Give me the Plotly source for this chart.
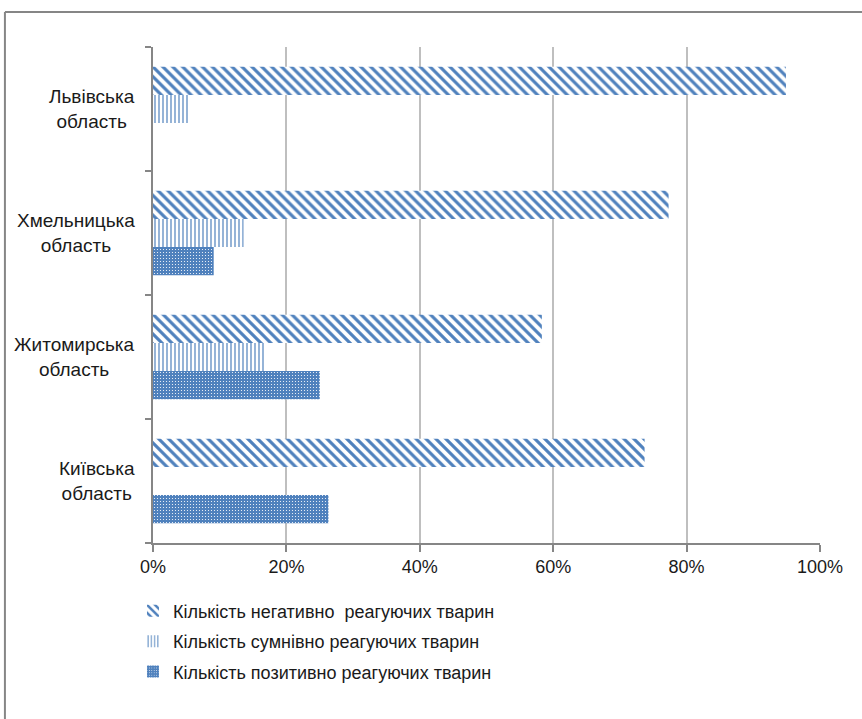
import plotly.graph_objects as go

regions = ["Київська", "Житомирська", "Хмельницька", "Львівська"]
region_labels = ["Київська<br>область", "Житомирська<br>область",
                 "Хмельницька<br>область", "Львівська<br>область"]

negative = [0.737, 0.583, 0.773, 0.949]
doubtful = [0.0, 0.167, 0.136, 0.054]
positive = [0.263, 0.250, 0.091, 0.0]

name_neg = "Кількість негативно  реагуючих тварин"
name_doubt = "Кількість сумнівно реагуючих тварин"
name_pos = "Кількість позитивно реагуючих тварин"

tick_vals = [0, 0.2, 0.4, 0.6, 0.8, 1.0]

BLUE = "#4F81BD"
FONT = "Liberation Sans"
TXT = "#1a1a1a"

fig = go.Figure()
fig.add_trace(go.Bar(
    y=regions, x=positive, orientation="h", name=name_pos,
    legendgroup="p", legendrank=3,
    marker=dict(color=BLUE, line=dict(width=0),
                pattern=dict(shape=".", fgcolor="white", bgcolor=BLUE,
                             size=3, solidity=0.12, fillmode="replace")),
))
fig.add_trace(go.Bar(
    y=regions, x=doubtful, orientation="h", name=name_doubt,
    legendgroup="d", legendrank=2,
    marker=dict(color=BLUE, line=dict(width=0),
                pattern=dict(shape="|", fgcolor=BLUE, bgcolor="white",
                             size=4, solidity=0.3, fillmode="replace")),
))
fig.add_trace(go.Bar(
    y=regions, x=negative, orientation="h", name=name_neg,
    legendgroup="n", legendrank=1,
    marker=dict(color=BLUE, line=dict(width=0),
                pattern=dict(shape="\\", fgcolor=BLUE, bgcolor="white",
                             size=7, solidity=0.45, fillmode="replace")),
))

annotations = []
for r, lab in zip(regions, region_labels):
    annotations.append(dict(
        x=-0.024, xref="paper", y=r, yref="y", text=lab, showarrow=False,
        xanchor="right", yanchor="middle", align="center",
        font=dict(family=FONT, size=19, color=TXT)))

fig.update_layout(
    width=862, height=719,
    margin=dict(l=153, r=42, t=47, b=176),
    paper_bgcolor="white", plot_bgcolor="white",
    barmode="group", bargap=0.32, bargroupgap=0,
    font=dict(family=FONT, size=18, color=TXT),
    showlegend=True,
    legend=dict(x=-0.03, xanchor="left", y=-0.1, yanchor="top",
                orientation="v", traceorder="grouped",
                font=dict(family=FONT, size=18, color=TXT),
                tracegroupgap=4, itemwidth=30),
    annotations=annotations,
    shapes=[
        dict(type="line", xref="paper", yref="paper",
             x0=-0.222, x1=1.2, y0=1.0706, y1=1.0706,
             line=dict(color="#868686", width=2)),
        dict(type="line", xref="paper", yref="paper",
             x0=-0.222, x1=-0.222, y0=1.0706, y1=-0.4,
             line=dict(color="#868686", width=2)),
    ],
)

fig.update_xaxes(
    range=[0, 1], tickvals=tick_vals, tickformat=".0%",
    showgrid=True, gridcolor="#BFBFBF", gridwidth=1.5,
    showline=True, linecolor="#868686", linewidth=1.5,
    ticks="outside", ticklen=7, tickcolor="#868686", tickwidth=1.5,
    tickfont=dict(family=FONT, size=18, color=TXT), zeroline=False,
)
fig.update_yaxes(
    categoryorder="array", categoryarray=regions,
    showticklabels=False, showgrid=False,
    showline=True, linecolor="#868686", linewidth=1.5,
    ticks="outside", ticklen=6, tickcolor="#868686", tickwidth=1.5,
    tickson="boundaries",
)

fig.write_html("out.html")
